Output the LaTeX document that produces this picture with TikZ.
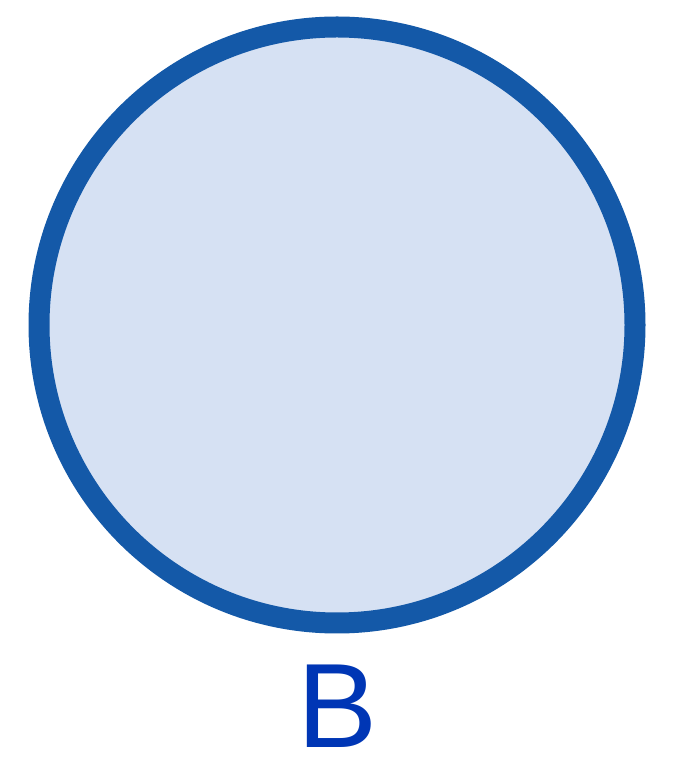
\documentclass[tikz,border=0pt]{standalone}
\usepackage{fontspec}
\setmainfont{Liberation Sans}
\usepackage{xcolor}
\usepackage{tikz}
\usetikzlibrary{positioning}
\definecolor{ringblue}{HTML}{1459A8}
\definecolor{ringfill}{HTML}{D6E1F3}
\definecolor{labelblue}{HTML}{0036B5}

\begin{document}
\begin{tikzpicture}[
  x=1pt, y=1pt,
  setcircle/.style={
    circle, draw=ringblue, fill=ringfill,
    line width=21pt, minimum size=596pt, inner sep=0pt,
  },
  setlabel/.style={
    font=\fontsize{120}{120}\selectfont, text=labelblue,
    inner sep=0pt, anchor=base,
  },
]
\useasboundingbox (0,0) rectangle (683,758);

% Set B
\node[setcircle] (b) at (337,433) {};

% Label
\node[setlabel] (blabel) at (338,10) {B};

\end{tikzpicture}
\end{document}
